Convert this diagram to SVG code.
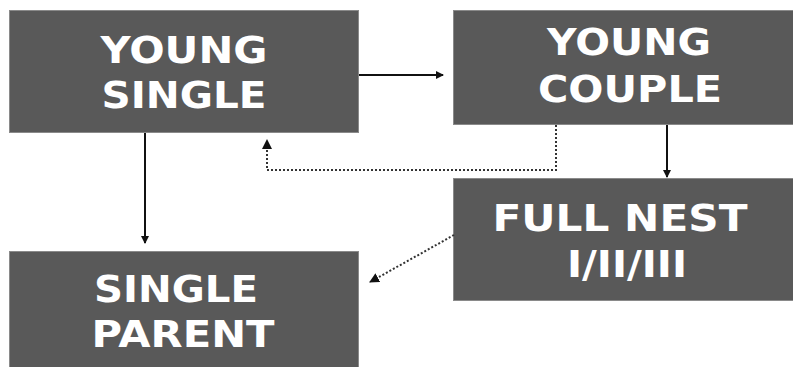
<svg xmlns="http://www.w3.org/2000/svg" width="793" height="367" viewBox="0 0 793 367">
  <style>
    .box { fill: #595959; stroke: #8a8a8a; stroke-width: 1; }
    .label { fill: #ffffff; font-family: "DejaVu Sans", "Liberation Sans", sans-serif; font-weight: bold; font-size: 37px; text-anchor: middle; }
    .solid { stroke: #111111; stroke-width: 2; fill: none; }
    .dotted { stroke: #333333; stroke-width: 2; stroke-dasharray: 2 2; fill: none; }
  </style>
  <defs>
    <marker id="arrow" markerWidth="8" markerHeight="8" refX="7" refY="4" orient="auto" markerUnits="userSpaceOnUse">
      <path d="M0,0 L8,4 L0,8 Z" fill="#111111"/>
    </marker>
    <marker id="arrowDot" markerWidth="10" markerHeight="10" refX="9" refY="5" orient="auto" markerUnits="userSpaceOnUse">
      <path d="M0,0 L10,5 L0,10 Z" fill="#111111"/>
    </marker>
  </defs>
  <rect width="793" height="367" fill="#ffffff"/>

  <g id="young-single">
    <rect class="box" x="9.5" y="10.5" width="349" height="122"/>
    <text class="label" x="184" y="63" textLength="167" lengthAdjust="spacingAndGlyphs">YOUNG</text>
    <text class="label" x="184" y="108" textLength="165" lengthAdjust="spacingAndGlyphs">SINGLE</text>
  </g>

  <g id="young-couple">
    <rect class="box" x="453.5" y="10.5" width="360" height="114"/>
    <text class="label" x="629" y="55" textLength="164" lengthAdjust="spacingAndGlyphs">YOUNG</text>
    <text class="label" x="630" y="102" textLength="184" lengthAdjust="spacingAndGlyphs">COUPLE</text>
  </g>

  <g id="full-nest">
    <rect class="box" x="453.5" y="178.5" width="360" height="122"/>
    <text class="label" x="620" y="231" textLength="255" lengthAdjust="spacingAndGlyphs">FULL NEST</text>
    <text class="label" x="627" y="277" textLength="120" lengthAdjust="spacingAndGlyphs">I/II/III</text>
  </g>

  <g id="single-parent">
    <rect class="box" x="9.5" y="251.5" width="349" height="130"/>
    <text class="label" x="176" y="302" textLength="164" lengthAdjust="spacingAndGlyphs">SINGLE</text>
    <text class="label" x="183" y="347" textLength="183" lengthAdjust="spacingAndGlyphs">PARENT</text>
  </g>

  <g id="connectors">
    <line class="solid" x1="359" y1="75" x2="443" y2="75" marker-end="url(#arrow)"/>
    <line class="solid" x1="145" y1="133" x2="145" y2="243" marker-end="url(#arrow)"/>
    <line class="solid" x1="667" y1="125" x2="667" y2="177" marker-end="url(#arrow)"/>
    <polyline class="dotted" points="556,125 556,170 267,170 267,140" marker-end="url(#arrowDot)"/>
    <line class="dotted" x1="454" y1="235" x2="370" y2="282" marker-end="url(#arrowDot)"/>
  </g>
</svg>
